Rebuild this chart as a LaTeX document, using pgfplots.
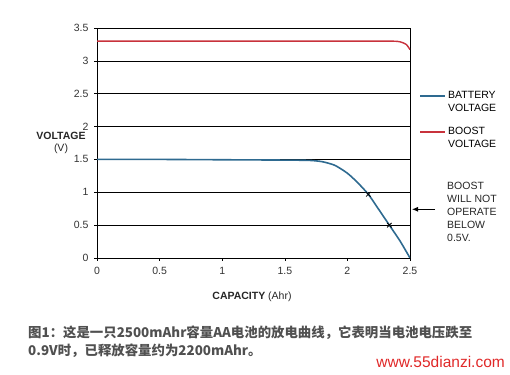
\documentclass[border=0pt]{standalone}
\usepackage{pgfplots}
\pgfplotsset{compat=1.18}
\usetikzlibrary{arrows.meta}
\usepackage{fontspec}
\setmainfont{Liberation Sans}
\newfontfamily\cjk{Noto Sans CJK SC}
\definecolor{batblue}{HTML}{2E6A90}
\definecolor{boostred}{HTML}{C8323C}
\definecolor{capgray}{HTML}{505050}
\definecolor{wmred}{HTML}{E02828}
\begin{document}
\begin{tikzpicture}[x=1pt,y=1pt]
\path[use as bounding box] (0,0) rectangle (510,374);
\begin{axis}[
  at={(97pt,116pt)}, anchor=south west,
  scale only axis, width=313pt, height=230pt,
  xmin=0, xmax=2.5, ymin=0, ymax=3.5,
  xtick={0,0.5,1,1.5,2,2.5},
  ytick={0,0.5,1,1.5,2,2.5,3,3.5},
  xticklabels={0,0.5,1,1.5,2,2.5},
  yticklabels={0,0.5,1,1.5,2,2.5,3,3.5},
  tick align=outside, major tick length=3pt,
  xtick pos=bottom, ytick pos=left,
  ymajorgrids, grid style={black, line width=0.7pt},
  axis line style={black, line width=0.8pt},
  tick style={black, line width=0.6pt},
  ticklabel style={font=\fontsize{10.5}{12}\selectfont, text=black!80},
  xticklabel style={yshift=-3pt},
  yticklabel style={xshift=-2pt},
  legend style={at={(1.03,0.733)}, anchor=north west, draw=none, fill=none,
    font=\fontsize{10.5}{13}\selectfont, row sep=10pt,
    cells={align=left}, inner sep=0pt},
  legend cell align=left,
  legend image code/.code={\draw[#1, line width=1.6pt] (0pt,6.5pt) -- (25pt,6.5pt);},
]
\addplot[batblue, line width=1.6pt, smooth, tension=0.4] coordinates {
  (0,1.5) (0.5,1.5) (1.0,1.495) (1.5,1.49) (1.7,1.485) (1.8,1.465)
  (1.9,1.41) (2.0,1.29) (2.08,1.15) (2.167,0.97) (2.25,0.74)
  (2.335,0.5) (2.42,0.26) (2.5,0)
};
\addlegendentry{BATTERY\\VOLTAGE}
\addplot[boostred, line width=1.4pt, smooth, tension=0.4] coordinates {
  (0,3.3) (1.0,3.3) (2.0,3.3) (2.35,3.3) (2.42,3.29) (2.47,3.25) (2.5,3.17)
};
\addlegendentry{BOOST\\VOLTAGE}
\addplot[only marks, mark=x, mark size=3.2pt, black, mark options={line width=0.8pt}, forget plot] coordinates {
  (2.167,0.97) (2.335,0.5)
};
\end{axis}
% axis titles
\node[font=\fontsize{10.5}{12}\selectfont, align=center, text=black!85] at (61,231) {\textbf{VOLTAGE}\\(V)};
\node[font=\fontsize{10.5}{12}\selectfont, text=black!85] at (252,77) {\textbf{CAPACITY} (Ahr)};
% annotation
\node[font=\fontsize{10.5}{13}\selectfont, align=left, anchor=north west, inner sep=0pt, text=black!85] at (447,192.5) {BOOST\\WILL NOT\\OPERATE\\BELOW\\0.5V.};
\draw[-{Latex[length=6pt,width=5pt]}, line width=0.8pt] (435,164.7) -- (412,164.7);
% caption
\node[font=\cjk\bfseries\fontsize{13.4}{18}\selectfont, text=capgray, anchor=west, inner sep=0pt] at (28,41) {图1：这是一只2500mAhr容量AA电池的放电曲线，它表明当电池电压跌至};
\node[font=\cjk\bfseries\fontsize{13.4}{18}\selectfont, text=capgray, anchor=west, inner sep=0pt] at (28,23) {0.9V时，已释放容量约为2200mAhr。};
% watermark
\node[font=\fontsize{15.5}{16}\selectfont, text=wmred, anchor=east, inner sep=0pt] at (505,12) {www.55dianzi.com};
\end{tikzpicture}
\end{document}
